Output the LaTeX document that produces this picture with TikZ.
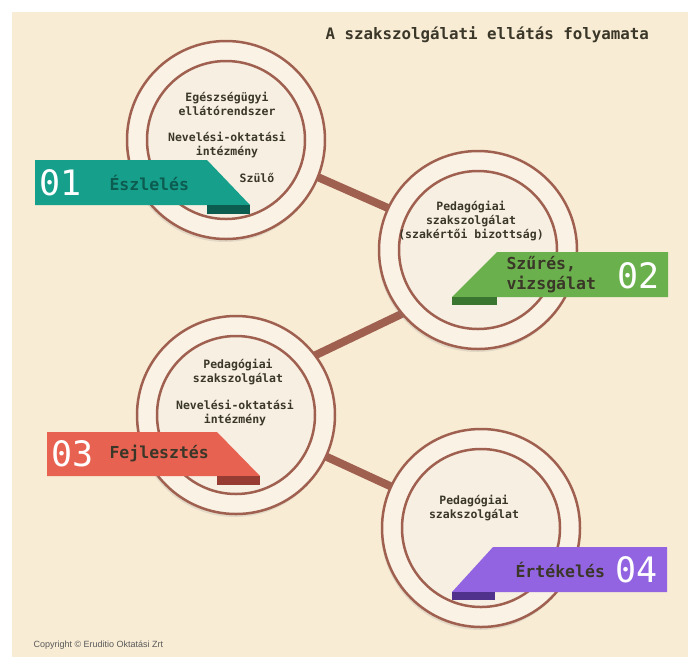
\documentclass[tikz,border=0pt]{standalone}
\usepackage{fontspec}
\newfontfamily\monofont{DejaVu Sans Mono}
\newfontfamily\copyfont{Liberation Sans}
\usetikzlibrary{shadows}

\definecolor{bgcream}{RGB}{248,236,213}
\definecolor{ringbrown}{RGB}{160,96,80}
\definecolor{ringlight}{RGB}{250,242,229}
\definecolor{corelight}{RGB}{246,239,226}
\definecolor{inkdark}{RGB}{58,54,40}
\definecolor{tealband}{RGB}{22,160,140}
\definecolor{tealdark}{RGB}{12,92,80}
\definecolor{greenband}{RGB}{106,176,76}
\definecolor{greendark}{RGB}{58,118,48}
\definecolor{redband}{RGB}{232,98,82}
\definecolor{reddark}{RGB}{150,60,50}
\definecolor{purpleband}{RGB}{146,100,226}
\definecolor{purpledark}{RGB}{80,50,140}

\begin{document}
\begin{tikzpicture}[x=1pt, y=-1pt,
    spot/.style={circle, minimum size=198pt, inner sep=0pt},
    ring/.style={circle, draw=ringbrown, line width=2.5pt, fill=ringlight,
        minimum size=198pt, inner sep=0pt,
        drop shadow={opacity=0.18, shadow xshift=-1pt, shadow yshift=-3pt}},
    core/.style={circle, draw=ringbrown, line width=2.5pt, fill=corelight,
        minimum size=158pt, inner sep=0pt},
    link/.style={draw=ringbrown, line width=8pt, shorten <=-12pt, shorten >=-12pt},
    intext/.style={font=\monofont\bfseries\fontsize{11.5}{14}\selectfont,
        text=inkdark, align=center},
    tag/.style={font=\monofont\bfseries\fontsize{16.5}{20}\selectfont,
        text=inkdark, anchor=west, align=left},
    num/.style={font=\monofont\fontsize{35}{40}\selectfont, text=white, anchor=west}]

    % page
    \useasboundingbox (0,0) rectangle (693,657);
    \fill[bgcream] (12,12) rectangle (688,657);

    \node[font=\monofont\bfseries\fontsize{15.8}{18}\selectfont, text=inkdark, anchor=west]
        (title) at (322,35) {A szakszolgálati ellátás folyamata};

    % where the rings sit
    \foreach \i/\pos in {1/{(226,140)}, 2/{(478,250)}, 3/{(236,415)}, 4/{(481,528)}} {
        \node[spot] (c\i) at \pos {};
    }

    % links between the rings, kept under them
    \draw[link] (c1.-22) -- (c2.155);
    \draw[link] (c2.220) -- (c3.37);
    \draw[link] (c3) -- (c4);

    % rings
    \foreach \i in {1,2,3,4} {
        \node[ring] (r\i) at (c\i) {};
        \node[core] (k\i) at (c\i) {};
    }

    % Step 1
    \node[intext] (e1) at (227,104) {Egészségügyi\\ellátórendszer};
    \node[intext] (e2) at (227,145) {Nevelési-oktatási\\intézmény};
    \node[intext] (e3) at (257,178) {Szülő};
    \fill[tealband] (35,160) -- (207,160) -- (250,205) -- (35,205) -- cycle;
    \fill[tealdark] (207,205) rectangle (250,214);
    \node[num] (n1) at (36,183) {01};
    \node[tag, text=tealdark] (t1) at (106,183) {Észlelés};

    % Step 2
    \node[intext] (f1) at (471,221) {Pedagógiai\\szakszolgálat\\(szakértői bizottság)};
    \fill[greenband] (497,252) -- (668,252) -- (668,297) -- (452,297) -- cycle;
    \fill[greendark] (452,297) rectangle (497,305);
    \node[tag] (t2) at (503,275) {Szűrés,\\vizsgálat};
    \node[num] (n2) at (614,276) {02};

    % Step 3
    \node[intext] (g1) at (238,372) {Pedagógiai\\szakszolgálat};
    \node[intext] (g2) at (235,413) {Nevelési-oktatási\\intézmény};
    \fill[redband] (47,432) -- (217,432) -- (260,476) -- (47,476) -- cycle;
    \fill[reddark] (217,476) rectangle (260,485);
    \node[num] (n3) at (48,454) {03};
    \node[tag] (t3) at (106,453) {Fejlesztés};

    % Step 4
    \node[intext] (h1) at (474,508) {Pedagógiai\\szakszolgálat};
    \fill[purpleband] (493,547) -- (667,547) -- (667,592) -- (452,592) -- cycle;
    \fill[purpledark] (452,592) rectangle (495,600);
    \node[tag] (t4) at (512,570) {Értékelés};
    \node[num] (n4) at (612,570) {04};

    \node[font=\copyfont\fontsize{9}{10}\selectfont, text=black!65, anchor=west]
        (copy) at (30,645) {Copyright © Eruditio Oktatási Zrt};
\end{tikzpicture}
\end{document}
